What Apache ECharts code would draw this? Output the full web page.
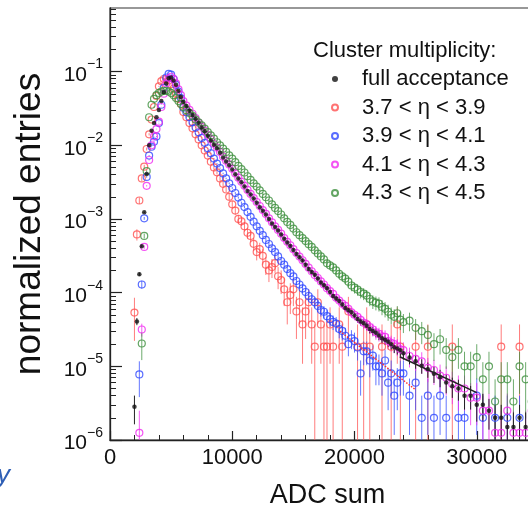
<!DOCTYPE html>
<html><head><meta charset="utf-8">
<script src="https://cdn.jsdelivr.net/npm/echarts@6/dist/echarts.min.js"></script>
<style>html,body{margin:0;padding:0;background:#fff}#c{width:528px;height:510px}</style>
</head><body><div id="c"></div>
<script>
// ADC sum bin centres: rising edge (200 steps), tail (250 steps up to 24000), far tail (500 steps)
const adc = [1800,2000,2200,2400,2600,2800,3000,3200,3400,3600,3800,4000,4200,4400,4600,4800,5000,5200,5400,5600,5800,
6000,6250,6500,6750,7000,7250,7500,7750,
8000,8250,8500,8750,9000,9250,9500,9750,
10000,10250,10500,10750,11000,11250,11500,11750,
12000,12250,12500,12750,13000,13250,13500,13750,
14000,14250,14500,14750,15000,15250,15500,15750,
16000,16250,16500,16750,17000,17250,17500,17750,
18000,18250,18500,18750,19000,19250,19500,19750,
20000,20250,20500,20750,21000,21250,21500,21750,
22000,22250,22500,22750,23000,23250,23500,23750,
24000,
24500,25000,25500,26000,26500,27000,27500,28000,28500,29000,29500,30000,30500,31000,31500,32000,32500,33000,33500,34000,34500];

const fullAcceptance = [null,2.82e-6,4.07e-5,1.78e-4,4.27e-4,1.23e-3,4.07e-3,1.0e-2,1.58e-2,2.0e-2,2.4e-2,3.02e-2,3.98e-2,5.25e-2,6.92e-2,8.13e-2,8.32e-2,7.59e-2,6.61e-2,5.5e-2,4.57e-2,
3.89e-2,3.42e-2,2.95e-2,2.58e-2,2.29e-2,2.02e-2,1.74e-2,1.55e-2,
1.35e-2,1.16e-2,1.02e-2,9.1e-3,7.94e-3,6.85e-3,6.03e-3,5.35e-3,
4.68e-3,4.05e-3,3.55e-3,3.15e-3,2.75e-3,2.4e-3,2.14e-3,1.9e-3,
1.66e-3,1.44e-3,1.29e-3,1.15e-3,1.0e-3,8.7e-4,7.76e-4,7.0e-4,
6.17e-4,5.4e-4,4.79e-4,4.3e-4,3.8e-4,3.35e-4,3.02e-4,2.72e-4,
2.4e-4,2.1e-4,1.91e-4,1.75e-4,1.55e-4,1.37e-4,1.26e-4,1.15e-4,
1.02e-4,9.0e-5,8.32e-5,7.7e-5,6.92e-5,6.2e-5,5.75e-5,5.4e-5,
4.9e-5,4.4e-5,4.07e-5,3.85e-5,3.55e-5,3.2e-5,3.02e-5,2.85e-5,
2.63e-5,2.4e-5,2.29e-5,2.15e-5,2.0e-5,1.82e-5,1.74e-5,1.65e-5,
1.51e-5,
1.32e-5,1.17e-5,1.02e-5,9.12e-6,7.94e-6,7.08e-6,6.03e-6,5.37e-6,5.0e-6,4.0e-6,4.0e-6,3.0e-6,3.0e-6,2.5e-6,2.0e-6,2.0e-6,1.5e-6,1.5e-6,2.0e-6,1.5e-6,null];

const eta37to39 = [null,5.37e-5,6.17e-4,1.78e-3,3.55e-3,5.13e-3,8.91e-3,1.41e-2,2.24e-2,3.31e-2,4.68e-2,6.31e-2,7.41e-2,7.94e-2,7.94e-2,7.59e-2,6.76e-2,5.89e-2,5.01e-2,4.27e-2,3.63e-2,
2.82e-2,2.4e-2,2.0e-2,1.7e-2,1.41e-2,1.2e-2,1.0e-2,8.5e-3,
7.24e-3,6.0e-3,5.01e-3,4.3e-3,3.55e-3,3.0e-3,2.51e-3,2.0e-3,
1.58e-3,1.3e-3,1.0e-3,9.3e-4,7.94e-4,6.5e-4,5.89e-4,4.6e-4,
3.55e-4,3.9e-4,3.16e-4,2.4e-4,2.0e-4,2.22e-4,2.51e-4,1.67e-4,
1.48e-4,1.11e-4,7.41e-5,9.26e-5,1.11e-4,5.56e-5,7.41e-5,3.7e-5,
5.56e-5,7.41e-5,3.7e-5,1.85e-5,7.41e-5,3.7e-5,1.85e-5,1.85e-5,
3.7e-5,1.85e-5,null,3.7e-5,1.85e-5,null,5.56e-5,null,
null,1.85e-5,null,1.85e-5,3.7e-5,1.85e-5,null,null,
null,1.85e-5,null,null,1.85e-5,null,3.7e-5,1.85e-5,
null,
null,1.85e-5,null,1.85e-5,null,null,null,1.85e-5,null,null,null,null,null,null,null,1.85e-5,null,null,1.85e-5,null,null];

const eta39to41 = [null,null,null,7.76e-6,1.29e-4,1.02e-3,3.72e-3,7.24e-3,9.55e-3,1.12e-2,1.32e-2,2.0e-2,3.55e-2,6.03e-2,8.32e-2,9.33e-2,9.12e-2,7.94e-2,6.61e-2,5.37e-2,4.37e-2,
3.24e-2,2.8e-2,2.4e-2,2.05e-2,1.74e-2,1.5e-2,1.26e-2,1.08e-2,
9.12e-3,7.8e-3,6.61e-3,5.65e-3,4.9e-3,4.15e-3,3.55e-3,3.05e-3,
2.63e-3,2.25e-3,1.95e-3,1.66e-3,1.45e-3,1.24e-3,1.07e-3,9.2e-4,
7.94e-4,6.9e-4,6.03e-4,5.2e-4,4.57e-4,4.0e-4,3.55e-4,3.1e-4,
2.69e-4,2.4e-4,2.09e-4,1.84e-4,1.66e-4,1.44e-4,1.29e-4,1.14e-4,
1.02e-4,9.0e-5,8.13e-5,7.4e-5,6.61e-5,5.8e-5,5.5e-5,4.8e-5,
4.37e-5,4.0e-5,3.8e-5,3.2e-5,3.02e-5,2.6e-5,2.0e-5,2.4e-5,
2.2e-5,1.8e-5,8.0e-6,1.6e-5,1.6e-5,1.2e-5,1.4e-5,1.0e-5,
1.0e-5,8.0e-6,1.2e-5,6.0e-6,8.0e-6,4.0e-6,6.0e-6,8.0e-6,
8.0e-6,
4.0e-6,6.0e-6,2.0e-6,4.0e-6,2.0e-6,4.0e-6,2.0e-6,null,2.0e-6,2.0e-6,null,4.0e-6,2.0e-6,null,2.0e-6,null,2.0e-6,null,2.0e-6,null,null];

const eta41to43 = [null,null,null,1.25e-6,3.16e-5,4.17e-4,2.82e-3,6.31e-3,1.0e-2,1.32e-2,1.66e-2,2.09e-2,3.31e-2,5.01e-2,6.92e-2,8.13e-2,8.51e-2,7.94e-2,6.92e-2,5.75e-2,4.79e-2,
3.98e-2,3.45e-2,3.02e-2,2.68e-2,2.34e-2,2.02e-2,1.78e-2,1.58e-2,
1.38e-2,1.2e-2,1.05e-2,9.3e-3,8.13e-3,7.0e-3,6.17e-3,5.5e-3,
4.79e-3,4.15e-3,3.63e-3,3.2e-3,2.82e-3,2.48e-3,2.19e-3,1.92e-3,
1.7e-3,1.5e-3,1.32e-3,1.17e-3,1.02e-3,9.0e-4,7.94e-4,7.1e-4,
6.31e-4,5.5e-4,4.9e-4,4.4e-4,3.89e-4,3.45e-4,3.09e-4,2.75e-4,
2.45e-4,2.18e-4,1.95e-4,1.74e-4,1.58e-4,1.42e-4,1.29e-4,1.15e-4,
1.05e-4,9.6e-5,8.51e-5,7.8e-5,7.08e-5,6.6e-5,6.03e-5,5.4e-5,
5.01e-5,4.7e-5,4.27e-5,3.9e-5,3.72e-5,3.4e-5,3.16e-5,2.9e-5,
2.75e-5,2.55e-5,2.51e-5,2.2e-5,2.09e-5,2.0e-5,1.86e-5,1.7e-5,
1.66e-5,
1.38e-5,1.26e-5,1.17e-5,9.55e-6,8.91e-6,7.5e-6,7.0e-6,5.75e-6,5.0e-6,5.0e-6,3.75e-6,3.75e-6,2.5e-6,2.5e-6,1.25e-6,1.25e-6,2.5e-6,1.25e-6,1.25e-6,1.25e-6,2.5e-6];

const eta43to45 = [null,null,null,null,2.04e-5,5.89e-4,4.47e-3,2.4e-2,3.55e-2,4.27e-2,4.79e-2,5.13e-2,5.37e-2,5.5e-2,5.5e-2,5.37e-2,5.13e-2,4.79e-2,4.37e-2,3.98e-2,3.63e-2,
3.31e-2,3.0e-2,2.75e-2,2.5e-2,2.24e-2,2.05e-2,1.86e-2,1.68e-2,
1.51e-2,1.36e-2,1.23e-2,1.1e-2,1.0e-2,9.0e-3,8.13e-3,7.3e-3,
6.61e-3,5.9e-3,5.25e-3,4.75e-3,4.27e-3,3.8e-3,3.39e-3,3.05e-3,
2.75e-3,2.45e-3,2.19e-3,1.97e-3,1.78e-3,1.58e-3,1.41e-3,1.28e-3,
1.15e-3,1.02e-3,9.12e-4,8.3e-4,7.41e-4,6.6e-4,6.03e-4,5.5e-4,
5.01e-4,4.55e-4,4.17e-4,3.75e-4,3.39e-4,3.1e-4,2.82e-4,2.5e-4,
2.34e-4,2.2e-4,2.0e-4,1.8e-4,1.66e-4,1.55e-4,1.41e-4,1.25e-4,
1.17e-4,1.1e-4,1.02e-4,9.7e-5,9.12e-5,8.2e-5,7.59e-5,7.3e-5,
7.08e-5,6.4e-5,6.03e-5,5.5e-5,5.01e-5,4.7e-5,5.25e-5,4.3e-5,
3.98e-5,
4.17e-5,3.33e-5,3.0e-5,2.67e-5,2.0e-5,2.33e-5,1.67e-5,1.33e-5,1.67e-5,1.0e-5,1.0e-5,1.33e-5,6.67e-6,1.0e-5,3.33e-6,6.67e-6,6.67e-6,3.33e-6,1.0e-5,6.67e-6,3.33e-6];

// number of entries of each histogram (sets the Poisson error bars)
const entriesFull = 2.0e6, entries37 = 5.4e4, entries39 = 5.0e5, entries41 = 8.0e5, entries43 = 3.0e5;

// exponential fits drawn in the tail
const fitRedX = [18800, 25000], fitRedY = [3.0e-5, 4.8e-6];
const fitBlackX = [23700, 30000], fitBlackY = [1.35e-5, 4.4e-6];

const seriesNames = ['full acceptance','3.7 < η < 3.9','3.9 < η < 4.1','4.1 < η < 4.3','4.3 < η < 4.5'];
const legendTitle = 'Cluster multiplicity:';
const xTickLabels = [0, 10000, 20000, 30000];
const yTickValues = [1e-6, 1e-5, 1e-4, 1e-3, 1e-2, 1e-1];
const yMinorTicks = [];
yTickValues.forEach(d => { for (let m = 2; m <= 9; m++) { const v = m * d; if (v < 0.73) yMinorTicks.push(v); } });

const Y_MIN = 1e-6, Y_MAX = 0.73;
const FONT = 'Liberation Sans, Arial, Helvetica, sans-serif';

function pts(vals) { const out = []; adc.forEach((x, i) => { if (vals[i] != null) out.push([x, vals[i]]); }); return out; }
function errSeries(vals, N, color) {
  const data = [];
  adc.forEach((x, i) => {
    const v = vals[i]; if (v == null) return;
    const e = Math.sqrt(v / N);
    data.push([x, v, Math.max(v - e, Y_MIN), Math.min(v + e, Y_MAX)]);
  });
  return {
    type: 'custom', silent: true, clip: true, data, encode: { x: 0, y: 1 },
    renderItem: (params, api) => {
      const a = api.coord([api.value(0), api.value(2)]);
      const b = api.coord([api.value(0), api.value(3)]);
      return { type: 'line', shape: { x1: a[0], y1: a[1], x2: b[0], y2: b[1] }, style: { stroke: color, lineWidth: 1 } };
    }
  };
}
function openSeries(name, vals, color) {
  return { type: 'scatter', name, data: pts(vals), symbol: 'circle', symbolSize: 7,
    itemStyle: { color: 'rgba(255,255,255,0)', borderColor: color, borderWidth: 1.2 } };
}

const cRed = '#ff5050', cBlue = '#3048ff', cMag = '#f028f0', cGreen = '#3c8f3c', cBlack = '#111111';

const chart = echarts.init(document.getElementById('c'), null, { renderer: 'canvas' });
chart.setOption({
  animation: false,
  backgroundColor: '#fff',
  textStyle: { fontFamily: FONT },
  title: { text: legendTitle, left: 313, top: 40, padding: 0,
    textStyle: { fontSize: 22, fontWeight: 'normal', color: '#111', fontFamily: FONT } },
  legend: { data: seriesNames, orient: 'vertical', left: 326, top: 63, itemWidth: 44, itemHeight: 6, itemGap: 6.5,
    selectedMode: false, textStyle: { fontSize: 22, color: '#111', lineHeight: 22, fontFamily: FONT } },
  grid: { left: 110, top: 8, right: -71, bottom: 70, outerBoundsMode: 'none', containLabel: false,
    show: true, borderColor: '#333', borderWidth: 1.2 },
  xAxis: {
    type: 'value', min: 0, max: 40000, interval: 10000,
    axisLine: { lineStyle: { color: '#222', width: 1.3 } },
    axisTick: { inside: true, length: 9, lineStyle: { color: '#222', width: 1.2 } },
    minorTick: { show: true, splitNumber: 5, length: 5, lineStyle: { color: '#222', width: 1 } },
    axisLabel: { customValues: xTickLabels, formatter: v => String(v), fontSize: 22, color: '#111', margin: 7, fontFamily: FONT },
    splitLine: { show: false },
    name: 'ADC sum', nameLocation: 'middle', nameGap: 42,
    nameTextStyle: { fontSize: 27, color: '#111', fontFamily: FONT, padding: [0, 54, 0, 0] }
  },
  yAxis: [{
    type: 'log', logBase: 10, min: Y_MIN, max: Y_MAX,
    axisLine: { show: true, lineStyle: { color: '#222', width: 1.3 } },
    axisTick: { show: true, inside: true, length: 12, customValues: yTickValues, lineStyle: { color: '#222', width: 1.2 } },
    axisLabel: { customValues: yTickValues, margin: 7,
      formatter: v => '{b|10}{s|−' + Math.abs(Math.round(Math.log10(v))) + '}',
      rich: { b: { fontSize: 21, color: '#111', fontFamily: FONT, verticalAlign: 'bottom', lineHeight: 28 },
              s: { fontSize: 14, color: '#111', fontFamily: FONT, verticalAlign: 'top', lineHeight: 28 } } },
    splitLine: { show: false },
    name: 'normalized entries', nameLocation: 'middle', nameRotate: 90, nameGap: 62,
    nameTextStyle: { fontSize: 37, color: '#111', fontFamily: FONT }
  }, {
    type: 'log', logBase: 10, min: Y_MIN, max: Y_MAX, position: 'left',
    axisLine: { show: false },
    axisTick: { show: true, inside: true, length: 6, customValues: yMinorTicks, lineStyle: { color: '#222', width: 1 } },
    axisLabel: { show: false }, splitLine: { show: false }
  }],
  graphic: [{ type: 'text', left: -3, top: 463, style: { text: 'y', font: 'italic 26px ' + FONT, fill: '#2f5fb5' } }],
  series: [
    errSeries(eta37to39, entries37, 'rgba(255,80,80,0.75)'), openSeries(seriesNames[1], eta37to39, cRed),
    errSeries(eta39to41, entries39, 'rgba(48,72,255,0.75)'), openSeries(seriesNames[2], eta39to41, cBlue),
    errSeries(eta41to43, entries41, 'rgba(240,40,240,0.75)'), openSeries(seriesNames[3], eta41to43, cMag),
    errSeries(eta43to45, entries43, 'rgba(60,143,60,0.75)'), openSeries(seriesNames[4], eta43to45, cGreen),
    errSeries(fullAcceptance, entriesFull, '#222'),
    { type: 'scatter', name: seriesNames[0], data: pts(fullAcceptance), symbol: 'circle', symbolSize: 4.5, itemStyle: { color: cBlack } },
    { type: 'line', data: fitRedX.map((x, i) => [x, fitRedY[i]]), symbol: 'none', lineStyle: { color: '#ff3030', width: 1.5, type: 'dotted' }, silent: true },
    { type: 'line', data: fitBlackX.map((x, i) => [x, fitBlackY[i]]), symbol: 'none', lineStyle: { color: '#222', width: 1.5 }, silent: true }
  ]
});
</script></body></html>
